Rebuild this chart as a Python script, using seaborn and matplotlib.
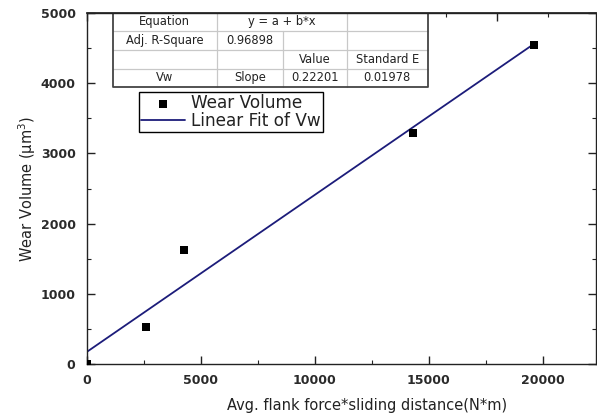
import numpy as np
import pandas as pd
import matplotlib
matplotlib.use("Agg")
import matplotlib.pyplot as plt
from matplotlib.ticker import MultipleLocator
from matplotlib.lines import Line2D
from matplotlib.patches import Rectangle
import seaborn as sns

# ---- data ----
force_distance = [0, 2590, 4280, 14330, 19630]      # N*m
wear_volume = [0, 535, 1626, 3295, 4540]            # um^3
x_ticks = [0, 5000, 10000, 15000, 20000]
y_ticks = [0, 1000, 2000, 3000, 4000, 5000]
table_rows = [
    ["Equation", "y = a + b*x", None, ""],
    ["Adj. R-Square", "0.96898", "", ""],
    ["", "", "Value", "Standard E"],
    ["Vw", "Slope", "0.22201", "0.01978"],
]

df = pd.DataFrame({"x": force_distance, "y": wear_volume})

sns.set_theme(style="ticks")
plt.rcParams["font.family"] = ["DejaVu Sans"]

W, H = 597, 417
fig = plt.figure(figsize=(W / 100, H / 100), dpi=100)
L, R, T, B = 86.7, 596.0, 12.8, 364.3
ax = fig.add_axes([L / W, 1 - B / H, (R - L) / W, (B - T) / H])

sns.regplot(data=df, x="x", y="y", ax=ax, scatter=False, ci=None, truncate=True,
            label="Linear Fit of Vw",
            line_kws=dict(color="#1c1c7a", lw=1.3, zorder=1))
sns.scatterplot(data=df, x="x", y="y", ax=ax, marker="s", s=30, color="black",
                edgecolor="black", linewidth=0, label="Wear Volume", zorder=3, clip_on=True)

ax.set_xlim(0, 22340)
ax.set_ylim(0, 5000)
ax.set_xticks(x_ticks)
ax.set_yticks(y_ticks)
ax.xaxis.set_minor_locator(MultipleLocator(2500))
ax.yaxis.set_minor_locator(MultipleLocator(500))
ax.tick_params(which="major", direction="in", length=6, width=1, color="#222222",
               labelsize=9, labelcolor="#2a2a2a", right=True)
ax.tick_params(which="minor", direction="in", length=3, width=0.8, color="#222222", right=True)
ax.tick_params(axis="y", pad=8)
ax.tick_params(axis="x", pad=7)
for lab in ax.get_xticklabels() + ax.get_yticklabels():
    lab.set_fontweight("semibold")
for sp in ax.spines.values():
    sp.set_color("#222222")
    sp.set_linewidth(1.0)

# top axis with its own tick spacing
sec = ax.secondary_xaxis("top")
sec.xaxis.set_major_locator(MultipleLocator(4500))
sec.xaxis.set_minor_locator(MultipleLocator(2250))
sec.tick_params(which="major", direction="in", length=6, width=1, color="#222222", labeltop=False)
sec.tick_params(which="minor", direction="in", length=3, width=0.8, color="#222222")
sec.spines["top"].set_color("#222222")

ax.set_xlabel("Avg. flank force*sliding distance(N*m)", fontsize=10.5, color="#222222")
ax.set_ylabel("Wear Volume (μm$^3$)", fontsize=10.5, color="#222222")
ax.xaxis.set_label_coords(0.55, -0.116)
ax.xaxis.label.set_va("center")
ax.yaxis.set_label_coords(-0.117, 0.5)
ax.yaxis.label.set_va("center")

# legend
handles, labels = ax.get_legend_handles_labels()
hmap = dict(zip(labels, handles))
names = ["Wear Volume", "Linear Fit of Vw"]
leg = ax.legend([hmap[n] for n in names], names,
                loc="upper left", bbox_to_anchor=((139 - L) / (R - L), (B - 92) / (B - T)),
                borderaxespad=0, fontsize=12.2, frameon=True, fancybox=False,
                edgecolor="black", framealpha=1, handlelength=2.6, handletextpad=0.35,
                labelspacing=0.02, borderpad=0.12, markerscale=1.1)
leg.get_frame().set_linewidth(1.0)
for t in leg.get_texts():
    t.set_color("#222222")

# parameter table (pixel layout converted to axes fraction)
def ax_xy(px, py):
    return (px - L) / (R - L), (B - py) / (B - T)

cols = [113, 216.7, 283.3, 346.7, 427.7]
rows = [12.8, 30.7, 50.0, 69.0, 86.7]
x0, y0 = ax_xy(cols[0], rows[-1])
x1, y1 = ax_xy(cols[-1], rows[0])
ax.add_patch(Rectangle((x0, y0), x1 - x0, y1 - y0, transform=ax.transAxes,
                       facecolor="white", edgecolor="none", zorder=2.2, clip_on=False))
grid = "#c8c8c8"
for r in rows[1:-1]:
    xa, ya = ax_xy(cols[0], r)
    xb, _ = ax_xy(cols[-1], r)
    ax.add_line(Line2D([xa, xb], [ya, ya], transform=ax.transAxes, color=grid, lw=0.9,
                       zorder=2.3, clip_on=False))
for ci, c in enumerate(cols[1:-1], start=1):
    top = rows[1] if ci == 2 else rows[0]
    xa, ya = ax_xy(c, top)
    _, yb = ax_xy(c, rows[-1])
    ax.add_line(Line2D([xa, xa], [ya, yb], transform=ax.transAxes, color=grid, lw=0.9,
                       zorder=2.3, clip_on=False))
bx = [cols[0], cols[0], cols[-1], cols[-1]]
by = [rows[0], rows[-1], rows[-1], rows[0]]
pts = [ax_xy(a, b) for a, b in zip(bx, by)]
ax.add_line(Line2D([p[0] for p in pts], [p[1] for p in pts], transform=ax.transAxes,
                   color="#444444", lw=1.3, zorder=2.4, clip_on=False))
for ri, row in enumerate(table_rows):
    yc = (rows[ri] + rows[ri + 1]) / 2
    for ci, txt in enumerate(row):
        if txt is None or txt == "":
            continue
        if ri == 0 and ci == 1:
            xc = (cols[1] + cols[3]) / 2
        else:
            xc = (cols[ci] + cols[ci + 1]) / 2
        xa, ya = ax_xy(xc, yc)
        ax.text(xa, ya, txt, transform=ax.transAxes, ha="center", va="center",
                fontsize=8.3, color="#222222", zorder=2.5)

fig.savefig("out.png", dpi=100)
